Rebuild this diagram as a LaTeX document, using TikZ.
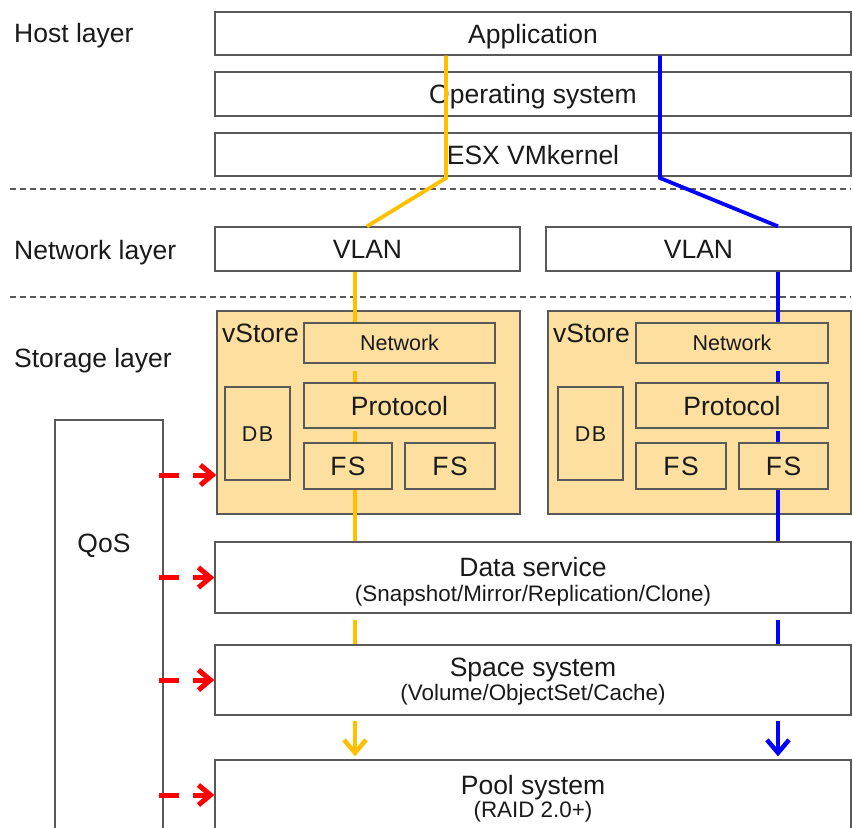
\documentclass[tikz,border=0pt]{standalone}
\usepackage{fontspec}
\setmainfont{Liberation Sans}
\usetikzlibrary{arrows.meta,calc}

\definecolor{boxline}{HTML}{595959}
\definecolor{vsfill}{HTML}{FDDFA0}
\definecolor{ypath}{HTML}{FFC000}
\definecolor{bpath}{HTML}{0000FF}
\definecolor{qosred}{HTML}{FF0000}
\definecolor{txt}{HTML}{1A1A1A}

\tikzset{
  bigfont/.style={font=\fontsize{26.5}{30}\selectfont, text height=19pt, text depth=0pt},
  smallfont/.style={font=\fontsize{21.5}{26}\selectfont, text height=15.5pt, text depth=0pt},
  subfont/.style={font=\fontsize{22.4}{26}\selectfont, text height=16pt, text depth=0pt},
  layerbox/.style={draw=boxline, line width=1.3pt, fill=white, inner sep=0pt,
    text=txt, bigfont},
  vsbox/.style={draw=boxline, line width=1.3pt, fill=vsfill, inner sep=0pt},
  innerbox/.style={draw=boxline, line width=1.2pt, fill=vsfill, inner sep=0pt,
    text=txt, bigfont},
  maintext/.style={text=txt, bigfont, inner sep=0pt},
  subtext/.style={text=txt, subfont, inner sep=0pt},
  sepline/.style={draw=boxline, line width=1.4pt, dash pattern=on 6pt off 4pt},
  ylink/.style={draw=ypath, line width=3.8pt},
  blink/.style={draw=bpath, line width=3.8pt},
  downarrow/.style={line width=3.8pt, -{Straight Barb[length=13pt,width=22pt,line width=4.5pt]}},
  qosarrow/.style={draw=qosred, line width=5pt, dash pattern=on 20pt off 14pt on 40pt,
    -{Straight Barb[length=12pt,width=20pt,line width=5pt]}}
}

\begin{document}
\begin{tikzpicture}[x=1pt,y=-1pt]
\useasboundingbox (0,0) rectangle (853,827);
\fill[white] (0,0) rectangle (853,827);

% ---------- host layer ----------
\node[maintext, anchor=west] (hostlbl) at (14,33) {Host layer};
\node[layerbox, minimum width=636, minimum height=43] (app) at (533,33.5) {Application};
\node[layerbox, minimum width=636, minimum height=44] (os)  at (533,94) {Operating system};
\node[layerbox, minimum width=636, minimum height=43] (esx) at (533,154.5) {ESX VMkernel};

\coordinate (sep1a) at (10,189);
\coordinate (sep1b) at (851,189);
\draw[sepline] (sep1a) -- (sep1b);

% ---------- network layer ----------
\node[maintext, anchor=west] (netlbl) at (14,250) {Network layer};
\node[layerbox, minimum width=305, minimum height=44] (vlanL) at (367.5,249) {VLAN};
\node[layerbox, minimum width=305, minimum height=44] (vlanR) at (698.5,249) {VLAN};

\coordinate (sep2a) at (10,297);
\coordinate (sep2b) at (851,297);
\draw[sepline] (sep2a) -- (sep2b);

% ---------- storage layer ----------
\node[maintext, anchor=west] (storlbl) at (14,358) {Storage layer};

% left vStore
\node[vsbox, minimum width=303, minimum height=203] (vsL) at (368.5,412.5) {};
\node[maintext, anchor=west] (vsLlbl) at (222,333) {vStore};
\node[innerbox, minimum width=191, minimum height=40, smallfont] (netL) at (399.5,343) {Network};
\node[innerbox, minimum width=191, minimum height=45] (protL) at (399.5,405.5) {Protocol};
\node[innerbox, minimum width=88, minimum height=46] (fsaL) at (348,466) {F\kern1.5pt S};
\node[innerbox, minimum width=90, minimum height=46] (fsbL) at (450,466) {F\kern1.5pt S};
\node[innerbox, minimum width=65, minimum height=93, smallfont] (dbL) at (257.5,433.5) {D\kern1.5pt B};

% right vStore
\node[vsbox, minimum width=303, minimum height=203] (vsR) at (699.5,412.5) {};
\node[maintext, anchor=west] (vsRlbl) at (553,333) {vStore};
\node[innerbox, minimum width=192, minimum height=40, smallfont] (netR) at (732,343) {Network};
\node[innerbox, minimum width=192, minimum height=45] (protR) at (732,405.5) {Protocol};
\node[innerbox, minimum width=90, minimum height=46] (fsaR) at (681,466) {F\kern1.5pt S};
\node[innerbox, minimum width=89, minimum height=46] (fsbR) at (783.5,466) {F\kern1.5pt S};
\node[innerbox, minimum width=65, minimum height=93, smallfont] (dbR) at (590.5,433.5) {D\kern1.5pt B};

% QoS column
\node[layerbox, minimum width=108, minimum height=420] (qos) at (109,630) {};
\node[maintext] (qoslbl) at (104,543) {QoS};

% service layers
\node[layerbox, minimum width=636, minimum height=71] (ds) at (533,577.5) {};
\node[maintext] (dsT) at (533,567) {Data service};
\node[subtext] (dsS) at (533,593) {(Snapshot/Mirror/Replication/Clone)};

\node[layerbox, minimum width=636, minimum height=70] (sp) at (533,680) {};
\node[maintext] (spT) at (533,667) {Space system};
\node[subtext] (spS) at (533,692) {(Volume/ObjectSet/Cache)};

\node[layerbox, minimum width=636, minimum height=90] (pool) at (533,805) {};
\node[maintext] (poolT) at (533,785) {Pool system};
\node[subtext] (poolS) at (533,809) {(RAID 2.0+)};

% ---------- I/O paths ----------
\coordinate (yx1) at (446,0);
\coordinate (ybend) at (446,178);
\coordinate (yx2) at (367,0);
\coordinate (yx) at (355,0);

\coordinate (bx1) at (660,0);
\coordinate (bbend) at (660,178);
\coordinate (bx2) at (778,0);
\coordinate (bx) at (778,0);

% yellow path
\draw[ylink] (app.south -| yx1) -- (ybend) -- (vlanL.north -| yx2);
\draw[ylink] (vlanL.south -| yx) -- (netL.north -| yx);
\draw[ylink] (protL.north -| yx) -- ++(0,-11);
\draw[ylink] (fsaL.north -| yx) -- ++(0,-11);
\draw[ylink] (fsaL.south -| yx) -- (ds.north -| yx);
\draw[ylink] (sp.north -| yx) -- ++(0,-24);
\draw[ylink, downarrow] ($(sp.south -| yx)+(0,5)$) -- ($(pool.north -| yx)+(0,-3)$);

% blue path
\draw[blink] (app.south -| bx1) -- (bbend) -- (vlanR.north -| bx2);
\draw[blink] (vlanR.south -| bx) -- (netR.north -| bx);
\draw[blink] (protR.north -| bx) -- ++(0,-11);
\draw[blink] (fsbR.north -| bx) -- ++(0,-11);
\draw[blink] (fsbR.south -| bx) -- (ds.north -| bx);
\draw[blink] (sp.north -| bx) -- ++(0,-24);
\draw[blink, downarrow] ($(sp.south -| bx)+(0,5)$) -- ($(pool.north -| bx)+(0,-3)$);

% ---------- QoS control arrows ----------
\coordinate (q1) at (0,475);
\coordinate (q4) at (0,795);
\draw[qosarrow] ($(qos.east |- q1)+(-5,0)$) -- (vsL.west |- q1);
\draw[qosarrow] ($(qos.east |- ds.west)+(-5,0)$) -- (ds.west);
\draw[qosarrow] ($(qos.east |- sp.west)+(-5,0)$) -- (sp.west);
\draw[qosarrow] ($(qos.east |- q4)+(-5,0)$) -- (pool.west |- q4);
\end{tikzpicture}
\end{document}
